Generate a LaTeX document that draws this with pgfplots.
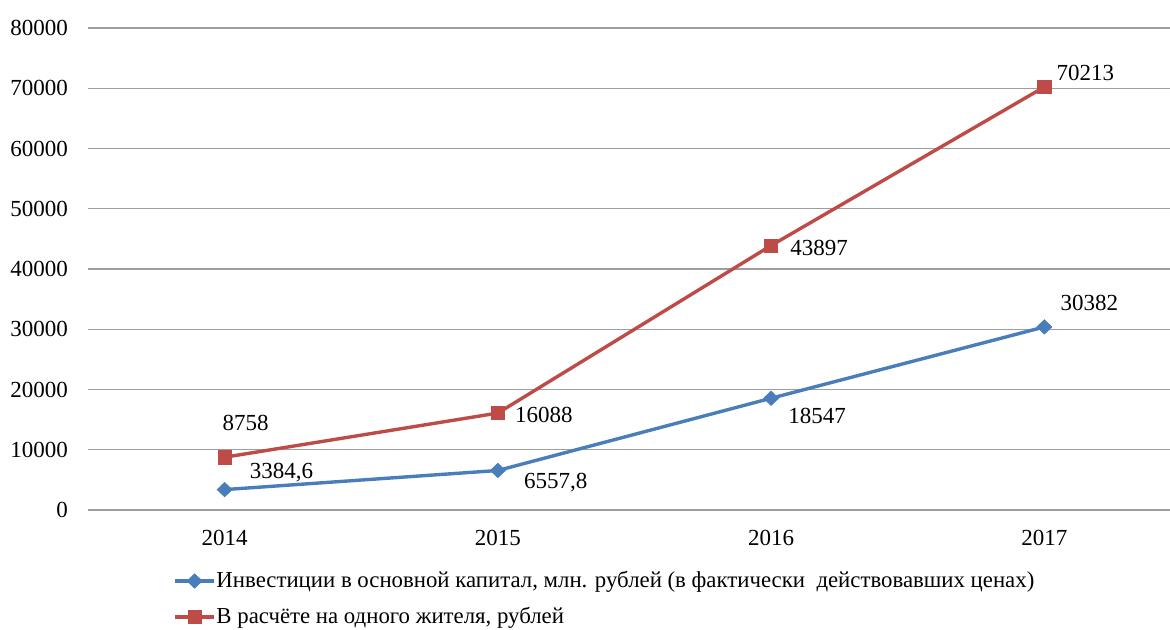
\documentclass[border=0pt]{standalone}
\usepackage{fontspec}
\setmainfont{Liberation Serif}
\usepackage{pgfplots}
\pgfplotsset{compat=1.18}
\definecolor{blueS}{RGB}{74,126,187}
\definecolor{redS}{RGB}{190,75,72}
\begin{document}
\fontsize{11.5}{13}\selectfont
\begin{tikzpicture}[font=\fontsize{11.5}{13}\selectfont]
\useasboundingbox (0,0) rectangle (585pt,315pt);
\begin{axis}[
  at={(44pt,60pt)}, anchor=south west,
  width=541pt, height=241pt, scale only axis,
  xmin=-0.5, xmax=3.46, ymin=0, ymax=80000,
  xtick={0,1,2,3}, xticklabels={2014,2015,2016,2017},
  ytick={0,10000,...,80000},
  scaled y ticks=false,
  /pgf/number format/.cd, 1000 sep={}, assume math mode=true, /pgfplots/.cd,
  axis line style={draw=none},
  major tick length=0pt,
  ymajorgrids,
  major grid style={line width=0.7pt, color=black!38},
  yticklabel style={xshift=-6pt},
  xticklabel style={yshift=-6pt},
  clip=false,
  legend style={at={(0.0786,-0.1846)}, anchor=west, draw=none, fill=none,
    inner sep=0pt, row sep=7.5pt, nodes={inner sep=0.3pt}, cells={anchor=west},
    font=\fontsize{11.4}{13}\selectfont},
  legend image code/.code={\draw[mark repeat=2,mark phase=2,#1] plot coordinates {(0pt,0pt)(9.75pt,0pt)(19.5pt,0pt)};},
  nodes near coords={\pgfplotspointmeta},
  point meta=explicit symbolic,
  visualization depends on={value \thisrow{dx}\as\dx},
  visualization depends on={value \thisrow{dy}\as\dy},
  every node near coord/.append style={anchor=center, xshift=\dx pt, yshift=\dy pt, text=black, font=\fontsize{11.5}{13}\selectfont},
]
\addplot[color=blueS, line width=1.7pt, mark=diamond*, mark size=3.6pt,
  mark options={solid, fill=blueS, draw=blueS, line width=0.3pt, xscale=1.4}]
  table[x=x, y=y, meta=label] {
x y label dx dy
0 3384.6 {3384,6} 28.5 8.5
1 6557.8 {6557,8} 29 -6
2 18547 18547 23 -9
3 30382 30382 22.5 12
};
\addlegendentry{Инвестиции в основной капитал, млн. рублей (в фактически\ \ действовавших ценах)}
\addplot[color=redS, line width=1.7pt, mark=square*, mark size=3.3pt,
  mark options={solid, fill=redS, draw=redS, line width=0.3pt}]
  table[x=x, y=y, meta=label] {
x y label dx dy
0 8758 8758 10.5 17
1 16088 16088 23 -1
2 43897 43897 24 -1
3 70213 70213 20.5 7
};
\addlegendentry{В расчёте на одного жителя, рублей}
\end{axis}
\end{tikzpicture}
\end{document}
